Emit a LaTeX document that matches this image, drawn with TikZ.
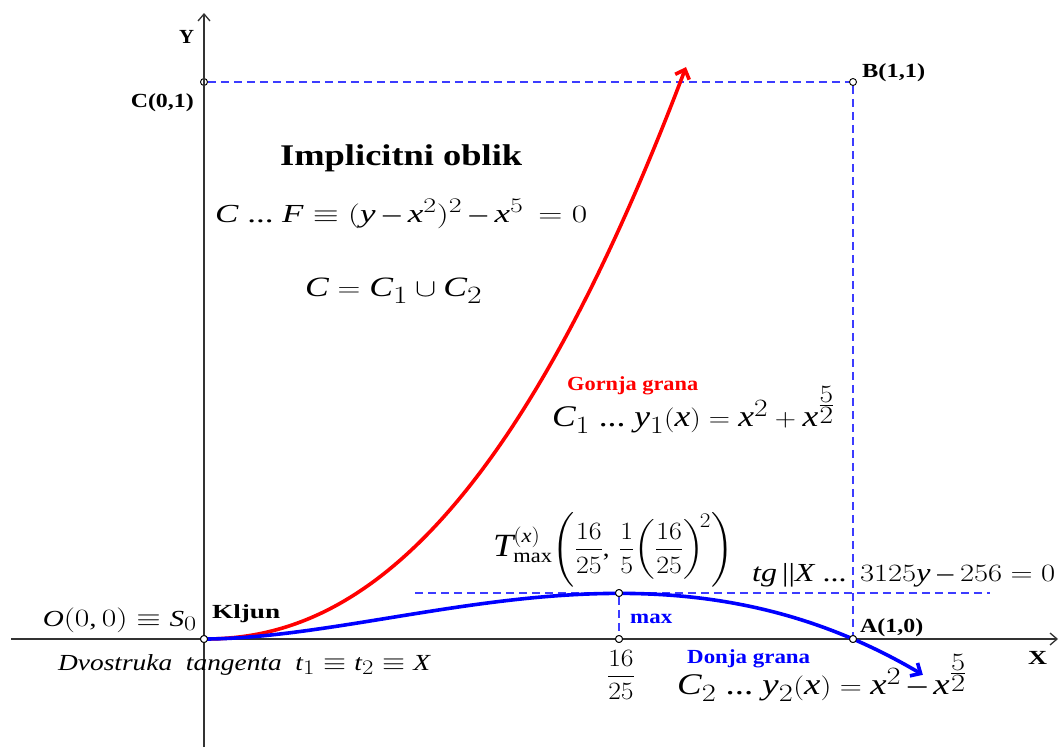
\documentclass[tikz,border=0pt]{standalone}
\usepackage{amsmath}
\usepackage{graphicx}
\usepackage{fontspec}
\setmainfont{Liberation Serif}
\usepackage[italic]{mathastext}
\usetikzlibrary{arrows.meta}
\definecolor{guideblue}{RGB}{60,60,255}
\newcommand{\fitw}[2]{\resizebox{#1}{\height}{#2}}
\tikzset{
  axis/.style={line width=1.3pt, draw=black!80},
  guide/.style={draw=guideblue, line width=1.2pt, dash pattern=on 8pt off 5pt},
  pt/.style={circle, draw=black, fill=white, line width=0.9pt, inner sep=0pt, minimum size=7pt},
  lbl/.style={font=\fontsize{20}{22}\selectfont\bfseries, inner sep=0pt},
  mth/.style={font=\fontsize{26}{30}\selectfont, inner sep=0pt},
  curve/.style={line width=3.6pt, line cap=round, line join=round},
}
\begin{document}
\begin{tikzpicture}[x=1pt,y=-1pt]
\useasboundingbox (0,0) rectangle (1059,747);
% coordinates
\coordinate (xs) at (11,639);
\coordinate (xe) at (1058,639);
\coordinate (ys) at (204,747);
\coordinate (ye) at (204,13);
\node[pt] (O) at (204,639) {};
\node[pt] (A) at (853,639) {};
\node[pt] (C) at (204,82) {};
\node[pt] (B) at (853,82) {};
\node[pt] (M) at (619,593) {};
\node[pt] (Mx) at (619,639) {};
\coordinate (hl) at (415,593);
\coordinate (hr) at (990,593);
% guides
\draw[guide] (C) -- (B);
\draw[guide] (B) -- (A);
\draw[guide] (hl) -- (M);
\draw[guide] (M) -- (hr);
\draw[guide] (M) -- (Mx);
% axes
\draw[axis, -{Straight Barb[length=7pt,width=12pt]}] (xs) -- (xe);
\draw[axis, -{Straight Barb[length=7pt,width=12pt]}] (ys) -- (ye);
% curves
\draw[curve, red, -{Straight Barb[length=8pt,width=15pt,line width=3.6pt]}]
  plot[domain=0:0.744, samples=120, smooth] ({204+649*\x},{639-557*(\x*\x+\x*\x*sqrt(\x))});
\draw[curve, blue, -{Straight Barb[length=8pt,width=15pt,line width=3.6pt]}]
  plot[domain=0:1.108, samples=120, smooth] ({204+649*\x},{639-557*(\x*\x-\x*\x*sqrt(\x))});
% redraw points on top
\node[pt] at (O) {};
\node[pt] at (A) {};
\node[pt] at (M) {};
\node[pt] at (Mx) {};
% labels
\node[lbl, anchor=base west] (lY) at (179,43) {\fitw{15pt}{Y}};
\node[lbl, anchor=base east] (lC) at (194,107) {\fitw{63pt}{C(0,1)}};
\node[lbl, anchor=base west] (lB) at (862,77) {\fitw{63pt}{B(1,1)}};
\node[lbl, anchor=base west] (lA) at (860,632) {\fitw{63pt}{A(1,0)}};
\node[lbl, anchor=base west] (lX) at (1028,664) {\fitw{19pt}{X}};
\node[lbl, anchor=base west] (lK) at (212,618) {\fitw{68pt}{Kljun}};
\node[lbl, anchor=base west, text=blue] (lmax) at (630,623) {\fitw{42pt}{max}};
\node[font=\fontsize{30}{34}\selectfont\bfseries, inner sep=0pt, anchor=base west] (impl) at (280,165) {\fitw{242pt}{Implicitni oblik}};
\node[mth, anchor=base west] (eqF) at (215,222) {\fitw{372pt}{$C\ ...\ F\equiv(y-x^2)^2-x^5\,=0$}};
\node[mth, font=\fontsize{28}{32}\selectfont, anchor=base west] (eqU) at (305,296) {\fitw{177pt}{$C=C_1\cup C_2$}};
\node[lbl, text=red, anchor=base west] (gor) at (567,390) {\fitw{131pt}{Gornja grana}};
\node[mth, font=\fontsize{30}{34}\selectfont, anchor=base west] (eq1) at (552,426) {\fitw{283pt}{$C_1\ ...\ y_1(x)=x^2+x^{\tfrac{5}{2}}$}};
\node[mth, font=\fontsize{24}{28}\selectfont, anchor=base west] (eqT) at (493,556) {\fitw{240pt}{$\scalebox{1.35}{$T$}^{(x)}_{\mathrm{max}}\!\left(\dfrac{16}{25},\,\dfrac{1}{5}\!\left(\dfrac{16}{25}\right)^{\!2}\right)$}};
\node[mth, anchor=base west] (eqtg) at (752,581) {\fitw{303pt}{$tg\,||X\ ...\;\, 3125y-256=0$}};
\node[mth, font=\fontsize{23}{27}\selectfont, anchor=base east] (eqO) at (197,626) {\fitw{154pt}{$O(0,0)\equiv S_0$}};
\node[mth, font=\fontsize{23}{27}\selectfont, anchor=base west] (dvo) at (58,670) {\fitw{372pt}{\itshape Dvostruka\ \ tangenta\ \ $t_1\equiv t_2\equiv X$}};
\node[mth] (frac) at (621,675) {\fitw{28pt}{$\dfrac{16}{25}$}};
\node[lbl, text=blue, anchor=base west] (don) at (687,663) {\fitw{123pt}{Donja grana}};
\node[mth, font=\fontsize{30}{34}\selectfont, anchor=base west] (eq2) at (677,694) {\fitw{290pt}{$C_2\ ...\ y_2(x)=x^2-x^{\tfrac{5}{2}}$}};
\end{tikzpicture}
\end{document}
